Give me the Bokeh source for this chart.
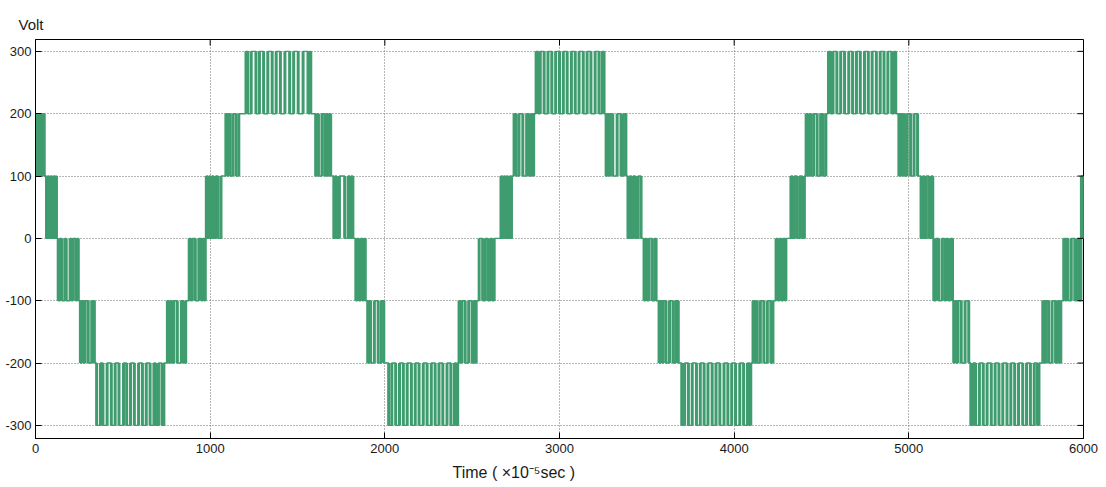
from bokeh.plotting import figure
from bokeh.models import Range1d, FixedTicker, Title
from bokeh.embed import file_html
from bokeh.resources import INLINE

# ---------------- data ----------------
x_ticks = [0, 1000, 2000, 3000, 4000, 5000, 6000]
x_tick_labels = ["0", "1000", "2000", "3000", "4000", "5000", "6000"]
y_ticks = [-300, -200, -100, 0, 100, 200, 300]
y_tick_labels = ["-300", "-200", "-100", "0", "100", "200", "300"]

# voltage level at t = 0 (x 10^-5 s)
start_volt = 200
end_time = 6000

# each band: lower level, upper level, switching instants inside it
band_lows = [100, 0, -100, -200, -300, -200, -100, 0, 100, 200,
             100, 0, -100, -200, -300, -200, -100, 0, 100, 200,
             100, 0, -100, -200, -300, -200, -100, 0, 100, 200,
             100, 0, -100, -200, -300, -200, -100, 0]
band_highs = [200, 100, 0, -100, -200, -100, 0, 100, 200, 300,
              200, 100, 0, -100, -200, -100, 0, 100, 200, 300,
              200, 100, 0, -100, -200, -100, 0, 100, 200, 300,
              200, 100, 0, -100, -200, -100, 0, 100]
band_edges = [
    [4, 12, 20, 28, 36, 44, 50],
    [63, 70, 78, 86, 94, 102, 110, 116, 120],
    [130, 140, 150, 168, 176, 198, 206, 214, 230, 238, 245],
    [257, 266, 275, 284, 302, 322, 337],
    [350, 372, 386, 410, 434, 456, 478, 504, 522, 544, 566, 590, 612, 634, 656, 678, 688, 704, 724, 735],
    [755, 764, 773, 782, 792, 812, 835, 848, 860],
    [880, 889, 898, 915, 935, 950, 958, 965, 972],
    [978, 986, 994, 1002, 1010, 1020, 1032, 1045, 1062],
    [1090, 1098, 1106, 1114, 1130, 1148, 1164],
    [1205, 1215, 1235, 1262, 1282, 1306, 1330, 1355, 1378, 1402, 1428, 1455, 1478, 1504, 1532, 1560, 1570, 1576],
    [1604, 1612, 1620, 1640, 1656, 1664, 1672, 1680, 1690],
    [1708, 1716, 1724, 1740, 1770, 1790, 1800, 1808, 1817],
    [1834, 1842, 1850, 1862, 1872, 1880, 1888],
    [1902, 1910, 1918, 1940, 1962, 1980, 1994],
    [2022, 2040, 2062, 2084, 2106, 2128, 2152, 2174, 2196, 2220, 2242, 2266, 2288, 2310, 2332, 2356, 2378, 2398, 2410, 2417],
    [2425, 2433, 2441, 2460, 2480, 2500, 2510, 2517, 2523],
    [2540, 2560, 2575, 2590, 2605, 2615, 2626],
    [2665, 2673, 2681, 2689, 2697, 2705, 2715, 2720, 2725],
    [2740, 2752, 2768, 2790, 2812, 2826, 2838, 2846, 2852],
    [2866, 2878, 2890, 2912, 2934, 2956, 2978, 3000, 3022, 3044, 3068, 3090, 3112, 3136, 3158, 3180, 3204, 3226, 3244, 3255],
    [3267, 3275, 3283, 3291, 3305, 3330, 3352, 3366, 3380],
    [3392, 3402, 3412, 3422, 3435, 3450, 3467],
    [3484, 3492, 3500, 3512, 3530, 3545, 3553],
    [3570, 3578, 3586, 3594, 3610, 3630, 3650, 3665, 3680],
    [3700, 3716, 3738, 3760, 3784, 3806, 3828, 3850, 3874, 3896, 3918, 3942, 3964, 3986, 4008, 4032, 4054, 4076, 4088, 4095],
    [4108, 4116, 4124, 4132, 4150, 4170, 4190, 4210, 4222],
    [4240, 4250, 4260, 4270, 4280, 4290, 4296],
    [4325, 4335, 4345, 4360, 4375, 4390, 4402],
    [4412, 4420, 4430, 4440, 4455, 4475, 4495, 4510, 4525],
    [4540, 4552, 4566, 4588, 4610, 4632, 4656, 4678, 4700, 4722, 4746, 4768, 4790, 4814, 4836, 4858, 4880, 4902, 4916, 4925],
    [4943, 4951, 4959, 4967, 4975, 4990, 5010, 5030, 5050],
    [5070, 5080, 5090, 5100, 5115, 5128, 5137],
    [5143, 5155, 5170, 5190, 5205, 5215, 5225, 5238, 5250],
    [5257, 5265, 5273, 5281, 5300, 5322, 5343],
    [5355, 5368, 5382, 5404, 5426, 5448, 5472, 5494, 5516, 5538, 5562, 5584, 5606, 5628, 5652, 5674, 5696, 5718, 5736, 5745],
    [5767, 5775, 5783, 5800, 5820, 5840, 5852, 5862, 5870],
    [5887, 5895, 5903, 5911, 5930, 5950, 5965, 5975, 5985],
    [5988, 5994, 6000],
]

# ---------------- build the switching waveform ----------------
t_vals = [0]
v_vals = [start_volt]
edge_t, edge_lo, edge_hi = [], [], []
cur = start_volt
for lo, hi, edges in zip(band_lows, band_highs, band_edges):
    for e in edges:
        cur = hi if cur == lo else lo
        t_vals.append(e)
        v_vals.append(cur)
        edge_t.append(e)
        edge_lo.append(lo)
        edge_hi.append(hi)
t_vals.append(end_time)
v_vals.append(cur)

# ---------------- figure ----------------
X0, X1, Y0, Y1 = 0, 6000, -321, 319
p = figure(width=1106, height=487, output_backend="svg", toolbar_location=None,
           x_range=Range1d(X0, X1), y_range=Range1d(Y0, Y1),
           min_border_left=35, min_border_right=23, min_border_top=39, min_border_bottom=49)
p.background_fill_color = "white"
p.border_fill_color = "white"
p.outline_line_color = "black"
p.outline_line_width = 1

wave_color = "#3f9c6e"
p.step(t_vals, v_vals, mode="after", line_color=wave_color, line_width=1.4)
p.segment(x0=edge_t, y0=edge_lo, x1=edge_t, y1=edge_hi, line_color=wave_color, line_width=3.0)

font = "Liberation Sans"

for ax, ticks, labels in [(p.xaxis[0], x_ticks, x_tick_labels), (p.yaxis[0], y_ticks, y_tick_labels)]:
    ax.ticker = FixedTicker(ticks=ticks)
    ax.major_label_overrides = {t: l for t, l in zip(ticks, labels)}
    ax.major_tick_in = 6
    ax.major_tick_out = 0
    ax.minor_tick_line_color = None
    ax.axis_line_color = "black"
    ax.major_tick_line_color = "black"
    ax.major_label_text_font = font
    ax.major_label_text_font_size = "13px"
    ax.major_label_text_color = "#1a1a1a"
p.xaxis[0].major_label_standoff = 5
p.yaxis[0].major_label_standoff = 4

# tick marks on the top and right edges of the box (6 px long, inward)
fw = 1106 - 35 - 23
fh = 487 - 39 - 49
dx = 6 * (X1 - X0) / fw
dy = 6 * (Y1 - Y0) / fh
p.segment(x0=x_ticks, y0=[Y1] * len(x_ticks), x1=x_ticks, y1=[Y1 - dy] * len(x_ticks),
          line_color="black", line_width=1)
p.segment(x0=[X1] * len(y_ticks), y0=y_ticks, x1=[X1 - dx] * len(y_ticks), y1=y_ticks,
          line_color="black", line_width=1)

for g in (p.xgrid[0], p.ygrid[0]):
    g.grid_line_color = "#6f6f6f"
    g.grid_line_dash = "1 2"
    g.grid_line_width = 1
p.xgrid[0].ticker = FixedTicker(ticks=x_ticks)
p.ygrid[0].ticker = FixedTicker(ticks=y_ticks)

p.title.text = "Volt"
p.title.align = "left"
p.title.offset = -17
p.title.standoff = 13
p.title.text_font = font
p.title.text_font_size = "15px"
p.title.text_font_style = "normal"
p.title.text_color = "#1a1a1a"

p.add_layout(Title(text="Time ( \u00d710\u207b\u2075sec )", align="left", offset=417, standoff=13,
                   text_font=font, text_font_size="16px", text_font_style="normal",
                   text_color="#1a1a1a"), "below")

open("out.html", "w").write(file_html(p, INLINE))
